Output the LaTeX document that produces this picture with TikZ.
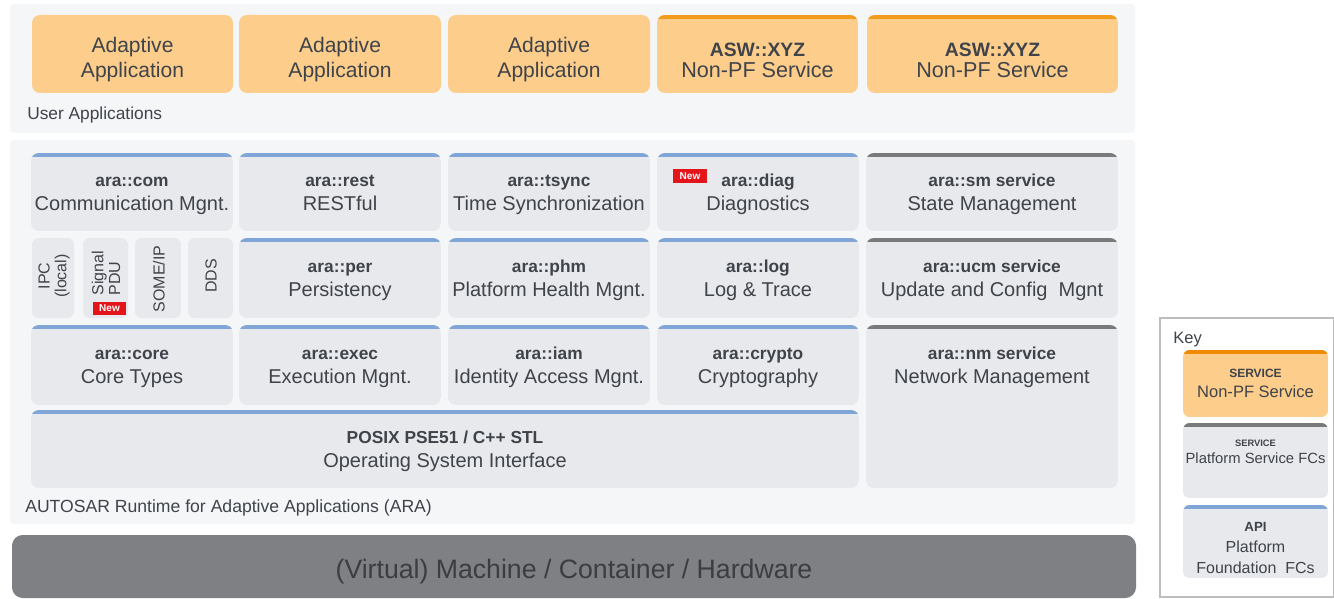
\documentclass[tikz,border=0pt]{standalone}
\usepackage{fontspec}
\setmainfont{Liberation Sans}
\definecolor{panel}{HTML}{F5F6F8}
\definecolor{boxg}{HTML}{E8E9EC}
\definecolor{blu}{HTML}{7FA6D6}
\definecolor{dk}{HTML}{7A7A7A}
\definecolor{org}{HTML}{FDCD8B}
\definecolor{orgdk}{HTML}{F39C1E}
\definecolor{orgkey}{HTML}{F08A00}
\definecolor{txt}{HTML}{3F434A}
\definecolor{hw}{HTML}{7F8084}
\definecolor{hwtxt}{HTML}{3C3D40}
\definecolor{newred}{HTML}{E3151B}
\definecolor{keyline}{HTML}{BDBDBD}
\tikzset{
  lbl/.style={text=txt, inner sep=0pt, anchor=base},
  bfl/.style={lbl, font=\fontsize{13}{15}\selectfont\bfseries},
  rgl/.style={lbl, font=\fontsize{15}{17}\selectfont},
  vtx/.style={text=txt, inner sep=0pt, rotate=90, font=\fontsize{12}{12.5}\selectfont},
  newbadge/.style={fill=newred, text=white, font=\fontsize{7.5}{8}\selectfont\bfseries, inner sep=0pt, minimum width=25pt, minimum height=10pt},
}
% FC box: name, x1, y1, x2, y2, strip colour, centre y, bold line, regular line
\newcommand\fcb[9]{%
  \begin{scope}
    \clip[rounded corners=6pt] (#2,#3) rectangle (#4,#5);
    \fill[boxg] (#2,#3) rectangle (#4,#5);
    \fill[#6] (#2,#3) rectangle (#4,{#3+4});
  \end{scope}
  \node[bfl] (#1-a) at ({(#2+#4)/2},{#7-5.5}) {#8};
  \node[rgl] (#1-b) at ({(#2+#4)/2},{#7+18}) {#9};
}
% adaptive application box: name, x1, x2
\newcommand\adapt[3]{%
  \fill[org, rounded corners=6pt] (#2,15) rectangle (#3,93);
  \node[lbl, font=\fontsize{15.8}{18}\selectfont] (#1-a) at ({(#2+#3)/2},53) {Adaptive};
  \node[lbl, font=\fontsize{15.8}{18}\selectfont] (#1-b) at ({(#2+#3)/2},78) {Application};
}
% ASW non-PF service box: name, x1, x2
\newcommand\asw[3]{%
  \begin{scope}
    \clip[rounded corners=6pt] (#2,15) rectangle (#3,93);
    \fill[org] (#2,15) rectangle (#3,93);
    \fill[orgdk] (#2,15) rectangle (#3,19);
  \end{scope}
  \node[lbl, font=\fontsize{14.5}{17}\selectfont\bfseries] (#1-a) at ({(#2+#3)/2},57) {ASW::XYZ};
  \node[lbl, font=\fontsize{16.2}{18}\selectfont] (#1-b) at ({(#2+#3)/2},78) {Non-PF Service};
}
\begin{document}
\begin{tikzpicture}[x=0.75pt,y=-0.75pt]
\useasboundingbox (0,0) rectangle (1334,599);
\fill[white] (0,0) rectangle (1334,599);

% panels
\fill[panel, rounded corners=3pt] (10,4) rectangle (1135,133);
\fill[panel, rounded corners=3pt] (10,140) rectangle (1135,524);

% user applications
\adapt{app1}{32}{233}
\adapt{app2}{239}{441}
\adapt{app3}{448}{650}
\asw{asw1}{657}{858}
\asw{asw2}{867}{1118}
\node[lbl, anchor=base west, font=\fontsize{13}{15}\selectfont] (userapps) at (27,120) {User Applications};

% row 1
\fcb{com}{31}{153}{233}{231}{blu}{192}{ara::com}{Communication Mgnt.}
\fcb{rest}{239}{153}{441}{231}{blu}{192}{ara::rest}{RESTful}
\fcb{tsync}{448}{153}{650}{231}{blu}{192}{ara::tsync}{Time Synchronization}
\fcb{diag}{657}{153}{859}{231}{blu}{192}{ara::diag}{Diagnostics}
\fcb{sm}{866}{153}{1118}{231}{dk}{192}{ara::sm service}{State Management}
\node[newbadge] (newdiag) at (690,176) {New};

% row 2: communication bindings
\fill[boxg, rounded corners=5pt] (32,238) rectangle (74,318);
\fill[boxg, rounded corners=5pt] (83,238) rectangle (128,318);
\fill[boxg, rounded corners=5pt] (135,238) rectangle (181,318);
\fill[boxg, rounded corners=5pt] (188,238) rectangle (233,318);
\node[vtx, align=center] (ipc) at (54,276) {IPC\\(local)};
\node[vtx, align=left] (sigpdu) at (106,273) {Signal\\PDU};
\node[vtx] (someip) at (159,279) {SOME/IP};
\node[vtx] (dds) at (211,276) {DDS};
\node[newbadge] (newpdu) at (109.5,308.5) {New};

\fcb{per}{239}{238}{441}{318}{blu}{278}{ara::per}{Persistency}
\fcb{phm}{448}{238}{650}{318}{blu}{278}{ara::phm}{Platform Health Mgnt.}
\fcb{log}{657}{238}{859}{318}{blu}{278}{ara::log}{Log \& Trace}
\fcb{ucm}{866}{238}{1118}{318}{dk}{278}{ara::ucm service}{Update and Config\ \ Mgnt}

% row 3
\fcb{core}{31}{325}{233}{405}{blu}{365}{ara::core}{Core Types}
\fcb{exec}{239}{325}{441}{405}{blu}{365}{ara::exec}{Execution Mgnt.}
\fcb{iam}{448}{325}{650}{405}{blu}{365}{ara::iam}{Identity Access Mgnt.}
\fcb{crypto}{657}{325}{859}{405}{blu}{365}{ara::crypto}{Cryptography}
\fcb{nm}{866}{325}{1118}{488}{dk}{365}{ara::nm service}{Network Management}

% row 4
\fcb{posix}{31}{410}{859}{488}{blu}{449}{POSIX PSE51 / C++ STL}{Operating System Interface}

\node[lbl, anchor=base west, font=\fontsize{13.2}{15}\selectfont] (ara) at (25,512) {AUTOSAR Runtime for Adaptive Applications (ARA)};

% hardware
\fill[hw, rounded corners=8pt] (12,535) rectangle (1136,598);
\node[anchor=base, inner sep=0pt, text=hwtxt, font=\fontsize{20}{24}\selectfont] (hwtext) at (574,578) {(Virtual) Machine / Container / Hardware};

% key
\draw[keyline, line width=0.8pt] (1160,318) rectangle (1333.4,597);
\node[lbl, anchor=base west, font=\fontsize{12.4}{14}\selectfont] (key) at (1173,343) {Key};
\begin{scope}
  \clip[rounded corners=5pt] (1183,350) rectangle (1328,417);
  \fill[org] (1183,350) rectangle (1328,417);
  \fill[orgkey] (1183,350) rectangle (1328,354);
\end{scope}
\node[lbl, font=\fontsize{9}{10}\selectfont\bfseries] (k1a) at (1255.5,377) {SERVICE};
\node[lbl, font=\fontsize{12.4}{14}\selectfont] (k1b) at (1255.5,397) {Non-PF Service};
\begin{scope}
  \clip[rounded corners=5pt] (1183,423) rectangle (1328,498);
  \fill[boxg] (1183,423) rectangle (1328,498);
  \fill[dk] (1183,423) rectangle (1328,427);
\end{scope}
\node[lbl, font=\fontsize{7}{8}\selectfont\bfseries] (k2a) at (1255.5,446) {SERVICE};
\node[lbl, font=\fontsize{11.1}{13}\selectfont] (k2b) at (1255.5,463) {Platform Service FCs};
\begin{scope}
  \clip[rounded corners=5pt] (1183,505) rectangle (1328,578);
  \fill[boxg] (1183,505) rectangle (1328,578);
  \fill[blu] (1183,505) rectangle (1328,509);
\end{scope}
\node[lbl, font=\fontsize{10}{12}\selectfont\bfseries] (k3a) at (1255.5,531) {API};
\node[lbl, font=\fontsize{12}{14}\selectfont] (k3b) at (1255.5,552) {Platform};
\node[lbl, font=\fontsize{12}{14}\selectfont] (k3c) at (1255.5,573) {Foundation\ \ FCs};
\end{tikzpicture}
\end{document}
